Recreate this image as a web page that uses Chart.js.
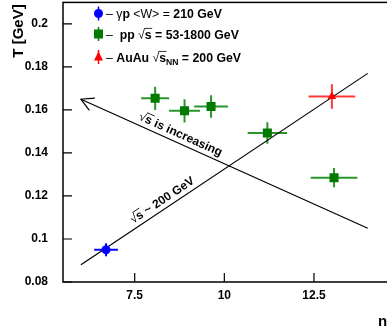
<!DOCTYPE html>
<html>
<head>
<meta charset="utf-8">
<script src="https://cdn.jsdelivr.net/npm/chart.js@4.4.0/dist/chart.umd.min.js"></script>
<style>
html, body { margin: 0; padding: 0; background: #fff; overflow: hidden; }
#wrap { width: 410px; height: 337px; margin-top: -4px; }
canvas { display: block; }
</style>
</head>
<body>
<div id="wrap"><canvas id="c" width="410" height="337"></canvas></div>
<script>
// gamma p, <W> = 210 GeV
const gpX = [6.7];
const gpY = [0.095];
const gpXErr = [0.33];
const gpYErr = [0.003];

// pp, sqrt(s) = 53-1800 GeV
const ppX = [8.07, 8.89, 9.63, 11.2, 13.06];
const ppY = [0.1654, 0.1596, 0.1616, 0.1493, 0.1285];
const ppXErr = [0.39, 0.43, 0.47, 0.55, 0.65];
const ppYErr = [0.0054, 0.0054, 0.0052, 0.005, 0.0045];

// AuAu, sqrt(s_NN) = 200 GeV
const auX = [13.0];
const auY = [0.1662];
const auXErr = [0.65];
const auYErr = [0.0057];

// guide lines
const line200X = [6, 14];
const line200Y = [0.088, 0.177];
const arrowX = [14, 6];
const arrowY = [0.105, 0.165];

const xTicks = [7.5, 10, 12.5];
const yTicks = [0.08, 0.1, 0.12, 0.14, 0.16, 0.18, 0.2];

const FONT = '"Liberation Sans", Arial, sans-serif';
const BLUE = '#0000ff', GREEN = '#007a00', GREEN_E = '#2a962a', RED = '#ff0000', RED_E = '#ff3a3a';
const OFF = 4; // canvas is shifted up by this much

function pts(xs, ys) { return xs.map((x, i) => ({ x: x, y: ys[i] })); }

const series = [
  { x: gpX, y: gpY, ex: gpXErr, ey: gpYErr, color: BLUE, ecolor: BLUE },
  { x: ppX, y: ppY, ex: ppXErr, ey: ppYErr, color: GREEN, ecolor: GREEN_E },
  { x: auX, y: auY, ex: auXErr, ey: auYErr, color: RED, ecolor: RED_E }
];

// draws text with sqrt / subscript / normal-weight pieces, returns end x
function rich(ctx, x, y, parts, size) {
  const bold = 'bold ' + size + 'px ' + FONT;
  ctx.font = bold;
  parts.forEach(p => {
    if (p.t !== undefined) {
      ctx.fillText(p.t, x, y);
      x += ctx.measureText(p.t).width;
    } else if (p.n !== undefined) {
      ctx.font = size + 'px ' + FONT;
      ctx.fillText(p.n, x, y);
      x += ctx.measureText(p.n).width;
      ctx.font = bold;
    } else if (p.sqrt !== undefined) {
      ctx.font = size + 'px ' + FONT;
      ctx.fillText('\u221a', x, y);
      const w = ctx.measureText('\u221a').width;
      ctx.font = bold;
      const sw = ctx.measureText(p.sqrt).width;
      ctx.fillText(p.sqrt, x + w, y);
      ctx.save();
      ctx.lineWidth = 0.8;
      ctx.strokeStyle = ctx.fillStyle;
      ctx.beginPath();
      ctx.moveTo(x + w - 1, y - size * 0.82);
      ctx.lineTo(x + w + sw + 0.5, y - size * 0.82);
      ctx.stroke();
      ctx.restore();
      x += w + sw;
    } else if (p.sub !== undefined) {
      ctx.font = 'bold ' + (size * 0.7) + 'px ' + FONT;
      ctx.fillText(p.sub, x, y + size * 0.25);
      x += ctx.measureText(p.sub).width;
      ctx.font = bold;
    }
  });
  return x;
}

function marker(ctx, style, x, y, color) {
  ctx.fillStyle = color;
  ctx.beginPath();
  if (style === 'circle') {
    ctx.arc(x, y, 4.5, 0, Math.PI * 2);
  } else if (style === 'rect') {
    ctx.rect(x - 4.5, y - 4.5, 9, 9);
  } else {
    ctx.moveTo(x, y - 5.5);
    ctx.lineTo(x + 4.5, y + 3.5);
    ctx.lineTo(x - 4.5, y + 3.5);
    ctx.closePath();
  }
  ctx.fill();
}

const overlay = {
  id: 'overlay',
  beforeDatasetsDraw(chart) {
    const ctx = chart.ctx, xs = chart.scales.x, ys = chart.scales.y;
    ctx.save();
    ctx.lineWidth = 2;
    series.forEach(s => {
      ctx.strokeStyle = s.ecolor;
      s.x.forEach((xv, i) => {
        const px = xs.getPixelForValue(xv), py = ys.getPixelForValue(s.y[i]);
        ctx.beginPath();
        ctx.moveTo(xs.getPixelForValue(xv - s.ex[i]), py);
        ctx.lineTo(xs.getPixelForValue(xv + s.ex[i]), py);
        ctx.moveTo(px, ys.getPixelForValue(s.y[i] - s.ey[i]));
        ctx.lineTo(px, ys.getPixelForValue(s.y[i] + s.ey[i]));
        ctx.stroke();
      });
    });
    ctx.restore();
  },
  afterDraw(chart) {
    const ctx = chart.ctx, xs = chart.scales.x, ys = chart.scales.y, a = chart.chartArea;
    ctx.save();
    // frame
    ctx.strokeStyle = '#000';
    ctx.lineWidth = 1.5;
    ctx.strokeRect(a.left, a.top, a.right - a.left, a.bottom - a.top);
    // inward ticks
    ctx.lineWidth = 1.2;
    ctx.beginPath();
    xTicks.forEach(v => {
      const p = xs.getPixelForValue(v);
      ctx.moveTo(p, a.bottom); ctx.lineTo(p, a.bottom - 9);
    });
    yTicks.forEach(v => {
      const p = ys.getPixelForValue(v);
      ctx.moveTo(a.left, p); ctx.lineTo(a.left + 9, p);
    });
    ctx.stroke();

    // arrow head
    const tx = xs.getPixelForValue(arrowX[1]), ty = ys.getPixelForValue(arrowY[1]);
    const ox = xs.getPixelForValue(arrowX[0]), oy = ys.getPixelForValue(arrowY[0]);
    const ang = Math.atan2(oy - ty, ox - tx);
    ctx.lineWidth = 1.2;
    ctx.beginPath();
    ctx.moveTo(tx + 14 * Math.cos(ang - 0.5), ty + 14 * Math.sin(ang - 0.5));
    ctx.lineTo(tx, ty);
    ctx.lineTo(tx + 14 * Math.cos(ang + 0.5), ty + 14 * Math.sin(ang + 0.5));
    ctx.stroke();

    // annotations along the lines
    ctx.fillStyle = '#000';
    ctx.textBaseline = 'alphabetic';
    function along(lx, ly, t, off, parts) {
      const x0 = xs.getPixelForValue(lx[0]), y0 = ys.getPixelForValue(ly[0]);
      const x1 = xs.getPixelForValue(lx[1]), y1 = ys.getPixelForValue(ly[1]);
      let an = Math.atan2(y1 - y0, x1 - x0);
      if (an > Math.PI / 2) an -= Math.PI;
      if (an < -Math.PI / 2) an += Math.PI;
      ctx.save();
      ctx.translate(x0 + (x1 - x0) * t, y0 + (y1 - y0) * t);
      ctx.rotate(an);
      const tmp = document.createElement('canvas').getContext('2d');
      const w = rich(tmp, 0, 0, parts, 12);
      rich(ctx, -w / 2, -off, parts, 12);
      ctx.restore();
    }
    along(arrowX, arrowY, 0.665, 5, [{ sqrt: 's' }, { t: ' is increasing' }]);
    along(line200X, line200Y, 0.3, 5, [{ sqrt: 's' }, { t: ' ~ 200 GeV' }]);

    // legend
    const legend = [
      { style: 'circle', color: BLUE, parts: [{ n: '\u2013 \u03b3' }, { t: 'p ' }, { n: '<W> = ' }, { t: '210 GeV' }] },
      { style: 'rect', color: GREEN, parts: [{ n: '\u2013  ' }, { t: 'pp ' }, { sqrt: 's' }, { t: ' = 53-1800 GeV' }] },
      { style: 'tri', color: RED, parts: [{ n: '\u2013 ' }, { t: 'AuAu ' }, { sqrt: 's' }, { sub: 'NN' }, { t: ' = 200 GeV' }] }
    ];
    const rows = [13.5, 34, 57];
    legend.forEach((e, i) => {
      const y = rows[i] + OFF;
      ctx.strokeStyle = e.color;
      ctx.lineWidth = 1.5;
      ctx.beginPath();
      ctx.moveTo(98.5, y - 7); ctx.lineTo(98.5, y + 7);
      ctx.stroke();
      marker(ctx, e.style, 98.5, y, e.color);
      ctx.fillStyle = '#000';
      rich(ctx, 106, y + 4.5, e.parts, 12.3);
    });

    // axis titles
    ctx.fillStyle = '#000';
    ctx.font = 'bold 15px ' + FONT;
    ctx.save();
    ctx.translate(23, 31 + OFF);
    ctx.rotate(-Math.PI / 2);
    ctx.textAlign = 'center';
    ctx.fillText('T [GeV]', 0, 0);
    ctx.restore();
    ctx.textAlign = 'left';
    ctx.fillText('n', 378, 326 + OFF);
    ctx.restore();
  }
};

new Chart(document.getElementById('c'), {
  type: 'scatter',
  data: {
    datasets: [
      { data: pts(gpX, gpY), pointStyle: 'circle', pointRadius: 4.5, backgroundColor: BLUE, borderWidth: 0 },
      { data: pts(ppX, ppY), pointStyle: 'rect', pointRadius: 6.4, backgroundColor: GREEN, borderWidth: 0 },
      { data: pts(auX, auY), pointStyle: 'triangle', pointRadius: 5, backgroundColor: RED, borderWidth: 0 },
      { data: pts(line200X, line200Y), showLine: true, pointRadius: 0, borderColor: '#000', borderWidth: 1.2 },
      { data: pts(arrowX, arrowY), showLine: true, pointRadius: 0, borderColor: '#000', borderWidth: 1.2 }
    ]
  },
  options: {
    responsive: false,
    animation: false,
    devicePixelRatio: 1,
    layout: { padding: { top: 0, left: 0, right: 4, bottom: 0 } },
    plugins: { legend: { display: false }, tooltip: { enabled: false } },
    scales: {
      x: {
        type: 'linear',
        min: 5.5,
        max: 15,
        grid: { display: false, drawTicks: false },
        border: { display: false },
        afterBuildTicks: s => { s.ticks = xTicks.map(v => ({ value: v })); },
        afterFit: s => { s.height = 51; s.paddingLeft = 0; s.paddingRight = 0; },
        ticks: {
          padding: 6,
          color: '#000',
          font: { family: FONT, size: 12, weight: 'bold' },
          callback: v => String(v)
        }
      },
      y: {
        type: 'linear',
        min: 0.08,
        max: 0.21,
        grid: { display: false, drawTicks: false },
        border: { display: false },
        afterBuildTicks: s => { s.ticks = yTicks.map(v => ({ value: v })); },
        afterFit: s => { s.width = 63; s.paddingTop = 0; s.paddingBottom = 0; },
        ticks: {
          padding: 15,
          color: '#000',
          font: { family: FONT, size: 12, weight: 'bold' },
          callback: v => String(v)
        }
      }
    }
  },
  plugins: [overlay]
});
</script>
</body>
</html>
